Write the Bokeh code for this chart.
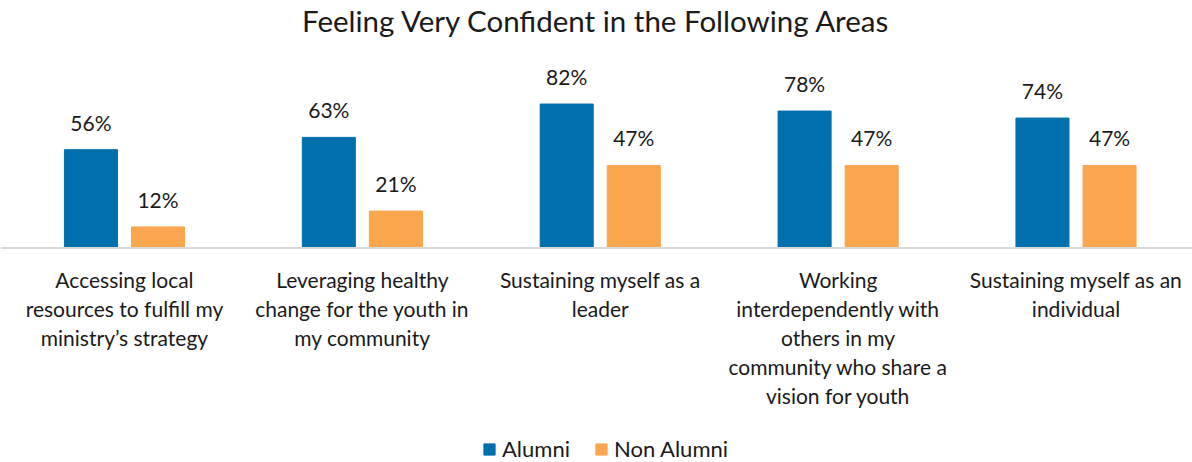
from bokeh.plotting import figure
from bokeh.models import Range1d, Legend, LegendItem, ColumnDataSource, LabelSet, Span
from bokeh.transform import dodge
from bokeh.core.properties import value
from bokeh.embed import file_html
from bokeh.resources import INLINE

categories = [
    "Accessing local\nresources to fulfill my\nministry\u2019s strategy",
    "Leveraging healthy\nchange for the youth in\nmy community",
    "Sustaining myself as a\nleader",
    "Working\ninterdependently with\nothers in my\ncommunity who share a\nvision for youth",
    "Sustaining myself as an\nindividual",
]
alumni = [56, 63, 82, 78, 74]
non_alumni = [12, 21, 47, 47, 47]
series = ["Alumni", "Non Alumni"]
colors = ["#0070AD", "#F9A64F"]

FONT = value("Lato")
TXT = "#1a1a1a"

idx = list(range(len(categories)))
src = ColumnDataSource(dict(
    x=idx,
    alumni=alumni,
    non_alumni=non_alumni,
    alumni_lbl=[f"{v}%" for v in alumni],
    non_lbl=[f"{v}%" for v in non_alumni],
))

# one row per label line (multi-line category tick labels, centred per line)
LINE_H = 29
FIRST = 32
lx, ly, lt, lo = [], [], [], []
for i, cat in zip(idx, categories):
    for k, line in enumerate(cat.split("\n")):
        lx.append(i)
        ly.append(0)
        lt.append(line)
        lo.append(-(FIRST + k * LINE_H))
cat_src = ColumnDataSource(dict(x=lx, y=ly, text=lt, off=lo))

p = figure(width=1192, height=462, output_backend="svg", toolbar_location=None,
           x_range=Range1d(-0.5212, 4.4897), y_range=Range1d(-122.2, 119.9),
           min_border=0, min_border_left=0, min_border_right=0,
           min_border_top=0, min_border_bottom=0,
           outline_line_color=None, background_fill_color="white",
           border_fill_color="white")

p.title.text = "Feeling Very Confident in the Following Areas"
p.title.align = "center"
p.title.text_font = "Lato"
p.title.text_font_size = "29.5px"
p.title.text_font_style = "normal"
p.title.text_color = TXT
p.title.standoff = 0

p.xaxis.visible = False
p.yaxis.visible = False
p.xgrid.visible = False
p.ygrid.visible = False

off = 0.141
w = 0.223
r1 = p.vbar(x=dodge("x", -off, range=p.x_range), top="alumni", width=w, source=src,
            fill_color=colors[0], line_color=colors[0])
r2 = p.vbar(x=dodge("x", off, range=p.x_range), top="non_alumni", width=w, source=src,
            fill_color=colors[1], line_color=colors[1])

p.add_layout(Span(location=0, dimension="width", line_color="#D9D9D9", line_width=2))

for col, lbl, d in [("alumni", "alumni_lbl", -off), ("non_alumni", "non_lbl", off)]:
    ls = LabelSet(x=dodge("x", d, range=p.x_range), y=col, text=lbl, source=src,
                  text_align="center", text_baseline="bottom", y_offset=15,
                  text_font=FONT, text_font_size="21px", text_color=TXT)
    p.add_layout(ls)

cl = LabelSet(x="x", y="y", text="text", y_offset="off", source=cat_src,
              text_align="center", text_baseline="middle", text_font=FONT,
              text_font_size="21px", text_color=TXT)
p.add_layout(cl)

legend = Legend(items=[LegendItem(label=series[0], renderers=[r1]),
                       LegendItem(label=series[1], renderers=[r2])],
                orientation="horizontal", location=(482, 0))
legend.border_line_color = None
legend.background_fill_alpha = 0
legend.label_text_font = "Lato"
legend.label_text_font_size = "22px"
legend.label_text_color = TXT
legend.glyph_width = 14
legend.glyph_height = 14
legend.spacing = 24
legend.label_standoff = 6
legend.padding = 0
legend.margin = 0
p.add_layout(legend)

open("out.html", "w").write(file_html(p, INLINE))
